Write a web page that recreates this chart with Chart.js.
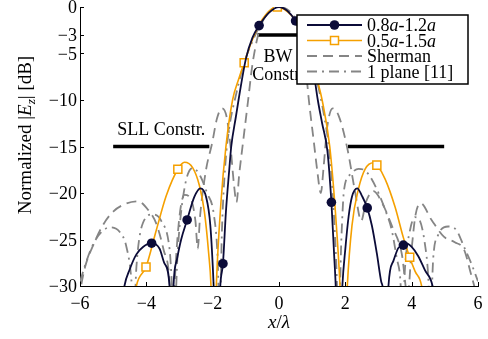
<!DOCTYPE html>
<html>
<head>
<meta charset="utf-8">
<script src="https://cdn.jsdelivr.net/npm/chart.js@4.4.1/dist/chart.umd.min.js"></script>
<style>
html,body{margin:0;padding:0;background:#fff;}
canvas{display:block;}
</style>
</head>
<body>
<canvas id="c" width="488" height="339"></canvas>
<script>
// ---- data (x/λ, normalized dB) ----
const xTicks = [-6, -4, -2, 0, 2, 4, 6];
const yTicks = [0, -3, -5, -10, -15, -20, -25, -30];

const navyPts = [[-4.8,-34],[-4.66,-30],[-4.5,-28.2],[-4.3,-26.6],[-4.1,-25.8],[-3.84,-25.4],[-3.6,-26],[-3.45,-27.6],[-3.3,-30],[-3.24,-40],[-3.18,-30],[-3.08,-27.2],[-2.95,-25],[-2.77,-22.9],[-2.55,-20.4],[-2.37,-19.5],[-2.2,-20.4],[-2.07,-23.5],[-1.97,-30],[-1.87,-40],[-1.77,-30],[-1.69,-27.6],[-1.6,-22],[-1.5,-17.5],[-1.44,-15],[-1.3,-11.8],[-1.22,-10],[-1.0,-5.6],[-0.8,-3.3],[-0.6,-2.0],[-0.3,-0.6],[0,0],[0.25,-0.4],[0.5,-1.5],[0.8,-3.6],[1.0,-6],[1.17,-10],[1.3,-12.5],[1.46,-15.5],[1.58,-21],[1.66,-26.5],[1.71,-30],[1.8,-40],[1.91,-30],[2.0,-26],[2.1,-22.5],[2.2,-20.4],[2.36,-19.5],[2.5,-20.3],[2.66,-21.6],[2.8,-23.5],[2.95,-26.5],[3.08,-29.5],[3.15,-31],[3.22,-40],[3.3,-30],[3.45,-27.3],[3.6,-25.9],[3.75,-25.6],[3.82,-25.4],[4.0,-25.8],[4.2,-26.8],[4.4,-28.3],[4.63,-30],[4.75,-33]];
const navyMarkX = [-3.84, -2.77, -1.69, -0.6, 0.5, 1.58, 2.66, 3.75];

const orangePts = [[-4.42,-33],[-4.3,-30],[-4.01,-27.96],[-3.7,-24],[-3.4,-20.3],[-3.05,-17.45],[-2.85,-16.7],[-2.6,-17.3],[-2.4,-19.2],[-2.25,-22],[-2.12,-26.5],[-2.05,-30],[-1.97,-40],[-1.89,-30],[-1.75,-21],[-1.6,-15],[-1.4,-10],[-1.22,-7.8],[-1.05,-6],[-0.8,-3.5],[-0.5,-1.3],[-0.05,0],[0.4,-1.0],[0.7,-2.6],[0.95,-5],[1.15,-7.8],[1.3,-10],[1.53,-15],[1.7,-22],[1.84,-30],[1.95,-40],[2.06,-30],[2.2,-23.5],[2.4,-19.5],[2.6,-17.4],[2.85,-16.75],[2.95,-17.0],[3.2,-18.5],[3.5,-21.5],[3.75,-24.8],[3.94,-26.9],[4.1,-28.4],[4.3,-30],[4.4,-33]];
const orangeMarkX = [-4.01, -3.05, -1.05, -0.05, 0.95, 2.95, 3.94];

const shermanPts = [[-6.05,-31.5],[-5.85,-28],[-5.6,-25.6],[-5.3,-23.4],[-5.0,-22.0],[-4.65,-21.2],[-4.25,-20.9],[-3.95,-21.8],[-3.7,-23.3],[-3.48,-26.1],[-3.3,-29.5],[-3.22,-36],[-3.12,-28],[-3.0,-22.5],[-2.85,-20.2],[-2.68,-20.5],[-2.52,-23],[-2.45,-26],[-2.38,-22.5],[-2.2,-17.5],[-2.02,-14.7],[-1.87,-12],[-1.72,-10.9],[-1.58,-11.8],[-1.47,-14.7],[-1.36,-19],[-1.28,-21],[-1.2,-18],[-1.1,-15],[-0.93,-10],[-0.81,-6.4],[-0.65,-3.3],[-0.5,-1.6],[-0.3,-0.5],[0,0],[0.3,-0.5],[0.5,-1.6],[0.65,-3.3],[0.8,-6.4],[0.9,-10],[1.05,-14.5],[1.15,-17.5],[1.26,-20],[1.35,-17],[1.45,-13],[1.62,-10.9],[1.8,-11.7],[2.06,-15.2],[2.3,-20],[2.48,-23],[2.62,-21],[2.85,-19.8],[3.1,-21],[3.4,-23.5],[3.7,-26.5],[3.88,-31],[4.0,-26],[4.12,-22.3],[4.27,-21.1],[4.6,-22.9],[4.97,-24.7],[5.3,-25.3],[5.58,-26.1],[5.78,-28.6],[6.0,-31.5]];

const planePts = [[-6.0,-29.5],[-5.7,-26.3],[-5.45,-24.6],[-5.1,-23.7],[-4.8,-24.2],[-4.6,-25.8],[-4.45,-29.4],[-4.38,-34],[-4.3,-28],[-4.1,-23.2],[-3.8,-22.3],[-3.55,-23],[-3.3,-26],[-3.15,-33],[-3.05,-26],[-2.85,-19.5],[-2.6,-17.3],[-2.37,-18.2],[-2.17,-20],[-1.97,-22.2],[-1.85,-27],[-1.79,-34],[-1.72,-24],[-1.62,-17],[-1.5,-13],[-1.3,-9.5],[-1.05,-6],[-0.8,-3.7],[-0.5,-1.5],[-0.2,-0.2],[0,0],[0.3,-0.4],[0.6,-1.9],[0.9,-4.6],[1.15,-8],[1.35,-11.5],[1.5,-15],[1.62,-20],[1.72,-27],[1.8,-34],[1.88,-25],[1.96,-19.7],[2.15,-18],[2.4,-17.4],[2.6,-17.6],[2.76,-18.3],[3.0,-20],[3.2,-21.8],[3.4,-24],[3.55,-27],[3.66,-29.4],[3.72,-34],[3.8,-28],[3.95,-24],[4.1,-22.6],[4.25,-23],[4.4,-25.5],[4.5,-29],[4.56,-34],[4.65,-27],[4.8,-24.5],[5.1,-23.6],[5.35,-24],[5.58,-25.8],[5.8,-27.6],[6.0,-29.5]];

const sllLeftX = [-5, -2.1];
const sllRightX = [2.08, 4.98];
const sllLevel = -15;
const bwX = [-0.65, 0.65];
const bwLevel = -3;

// ---- styles ----
const NAVY = '#0b0b38';
const ORANGE = '#f5a000';
const GRAY = '#858585';
const FONT = '"Liberation Serif", "Times New Roman", serif';

const toXY = pts => pts.map(p => ({x: p[0], y: p[1]}));
const hasX = (arr, v) => arr.some(a => Math.abs(a - v) < 1e-9);

function drawRich(ctx, segs, x, y, size, align) {
  let w = 0;
  const fonts = segs.map(s => {
    const sz = s.sub ? size * 0.7 : size;
    const f = (s.italic ? 'italic ' : '') + sz + 'px ' + FONT;
    ctx.font = f;
    const m = ctx.measureText(s.t).width;
    w += m;
    return {f, m};
  });
  let cx = align === 'center' ? x - w / 2 : (align === 'right' ? x - w : x);
  ctx.textAlign = 'left';
  ctx.textBaseline = 'alphabetic';
  segs.forEach((s, i) => {
    ctx.font = fonts[i].f;
    ctx.fillText(s.t, cx, y + (s.sub ? size * 0.22 : 0));
    cx += fonts[i].m;
  });
}

const decor = {
  id: 'decor',
  afterDatasetsDraw(chart) {
    const ctx = chart.ctx;
    const xs = chart.scales.x, ys = chart.scales.y;
    const area = chart.chartArea;
    ctx.save();
    ctx.fillStyle = '#000';
    ctx.strokeStyle = '#000';
    ctx.lineWidth = 1;
    // inward tick marks
    ctx.beginPath();
    xs.ticks.forEach(t => {
      const px = Math.round(xs.getPixelForValue(t.value)) + 0.5;
      ctx.moveTo(px, area.bottom); ctx.lineTo(px, area.bottom - 4);
    });
    ys.ticks.forEach(t => {
      const py = Math.round(ys.getPixelForValue(t.value)) + 0.5;
      ctx.moveTo(area.left, py); ctx.lineTo(area.left + 4, py);
    });
    ctx.stroke();
    // tick labels
    const fmt = v => (v < 0 ? '\u2212' + Math.abs(v) : String(v));
    ctx.font = '18px ' + FONT;
    ctx.textAlign = 'center';
    ctx.textBaseline = 'alphabetic';
    xs.ticks.forEach(t => {
      ctx.fillText(fmt(t.value), xs.getPixelForValue(t.value), area.bottom + 23);
    });
    ctx.textAlign = 'right';
    ys.ticks.forEach(t => {
      ctx.fillText(fmt(t.value), area.left - 3, ys.getPixelForValue(t.value) + 6);
    });
    // axis titles
    drawRich(ctx, [{t:'x', italic:true}, {t:'/'}, {t:'\u03bb', italic:true}], (area.left + area.right) / 2, 328, 19, 'center');
    ctx.save();
    ctx.translate(31, 135);
    ctx.rotate(-Math.PI / 2);
    drawRich(ctx, [{t:'Normalized |'}, {t:'E', italic:true}, {t:'z', italic:true, sub:true}, {t:'| [dB]'}], 0, 0, 19, 'center');
    ctx.restore();
    // annotations
    ctx.font = '18px ' + FONT;
    ctx.textAlign = 'center';
    ctx.textBaseline = 'alphabetic';
    ctx.fillText('SLL Constr.', xs.getPixelForValue((sllLeftX[0] + sllLeftX[1]) / 2), ys.getPixelForValue(sllLevel) - 12);
    const bwc = xs.getPixelForValue((bwX[0] + bwX[1]) / 2) - 1;
    ctx.fillText('BW', bwc, ys.getPixelForValue(bwLevel) + 27);
    ctx.fillText('Constr.', bwc, ys.getPixelForValue(bwLevel) + 45);
    // legend
    const L = 297, T = 15, R = 468, B = 84;
    ctx.fillStyle = '#fff';
    ctx.fillRect(L, T, R - L, B - T);
    ctx.lineWidth = 1.5;
    ctx.strokeStyle = '#000';
    ctx.strokeRect(L, T, R - L, B - T);
    const rows = [25, 40.5, 56, 71.5];
    const lx0 = 307, lx1 = 362, mx = 334.5, tx = 367;
    const items = [
      {color: NAVY, dash: [], w: 2, marker: 'circle', text: [{t:'0.8'}, {t:'a', italic:true}, {t:'-1.2'}, {t:'a', italic:true}]},
      {color: ORANGE, dash: [], w: 1.6, marker: 'rect', text: [{t:'0.5'}, {t:'a', italic:true}, {t:'-1.5'}, {t:'a', italic:true}]},
      {color: GRAY, dash: [10, 6], w: 1.8, text: [{t:'Sherman'}]},
      {color: GRAY, dash: [10, 5, 2, 5], w: 1.8, text: [{t:'1 plane [11]'}]}
    ];
    items.forEach((it, i) => {
      const y = rows[i];
      ctx.strokeStyle = it.color;
      ctx.lineWidth = it.w;
      ctx.setLineDash(it.dash);
      ctx.beginPath(); ctx.moveTo(lx0, y); ctx.lineTo(lx1, y); ctx.stroke();
      ctx.setLineDash([]);
      if (it.marker === 'circle') {
        ctx.fillStyle = it.color;
        ctx.beginPath(); ctx.arc(mx, y, 4.8, 0, Math.PI * 2); ctx.fill();
      } else if (it.marker === 'rect') {
        ctx.fillStyle = '#fff';
        ctx.fillRect(mx - 4, y - 4, 8, 8);
        ctx.lineWidth = 1.5;
        ctx.strokeRect(mx - 4, y - 4, 8, 8);
      }
      ctx.fillStyle = '#000';
      drawRich(ctx, it.text, tx, y + 6, 18, 'left');
    });
    ctx.restore();
  }
};

const common = {pointRadius: 0, fill: false, clip: 0, cubicInterpolationMode: 'monotone'};

new Chart(document.getElementById('c'), {
  type: 'line',
  data: {
    datasets: [
      Object.assign({}, common, {
        label: '0.8a-1.2a', data: toXY(navyPts), borderColor: NAVY, borderWidth: 1.8,
        pointRadius: c => hasX(navyMarkX, navyPts[c.dataIndex][0]) ? 4.8 : 0,
        pointStyle: 'circle', pointBackgroundColor: NAVY, pointBorderColor: NAVY, pointBorderWidth: 0
      }),
      Object.assign({}, common, {
        label: '0.5a-1.5a', data: toXY(orangePts), borderColor: ORANGE, borderWidth: 1.6,
        pointRadius: c => hasX(orangeMarkX, orangePts[c.dataIndex][0]) ? 5.7 : 0,
        pointStyle: 'rect', pointBackgroundColor: '#fff', pointBorderColor: ORANGE, pointBorderWidth: 1.5
      }),
      Object.assign({}, common, {
        label: 'Sherman', data: toXY(shermanPts), borderColor: GRAY, borderWidth: 1.8, borderDash: [10, 6]
      }),
      Object.assign({}, common, {
        label: '1 plane [11]', data: toXY(planePts), borderColor: GRAY, borderWidth: 1.8, borderDash: [10, 5, 2, 5]
      }),
      Object.assign({}, common, {
        label: 'sllL', data: sllLeftX.map(x => ({x, y: sllLevel})), borderColor: '#000', borderWidth: 3.5, cubicInterpolationMode: 'default', tension: 0
      }),
      Object.assign({}, common, {
        label: 'sllR', data: sllRightX.map(x => ({x, y: sllLevel})), borderColor: '#000', borderWidth: 3.5, cubicInterpolationMode: 'default', tension: 0
      }),
      Object.assign({}, common, {
        label: 'bw', data: bwX.map(x => ({x, y: bwLevel})), borderColor: '#000', borderWidth: 3.5, cubicInterpolationMode: 'default', tension: 0
      })
    ]
  },
  options: {
    responsive: false,
    animation: false,
    events: [],
    layout: {padding: {left: 0, top: 7, right: 10, bottom: 0}},
    plugins: {legend: {display: false}, tooltip: {enabled: false}},
    scales: {
      x: {
        type: 'linear', min: -6, max: 6,
        afterBuildTicks: s => { s.ticks = xTicks.map(v => ({value: v})); },
        afterFit: s => { s.height = 53; },
        ticks: {display: false},
        grid: {display: false},
        border: {display: true, color: '#000', width: 1}
      },
      y: {
        type: 'linear', min: -30, max: 0,
        afterBuildTicks: s => { s.ticks = yTicks.map(v => ({value: v})); },
        afterFit: s => { s.width = 80; },
        ticks: {display: false},
        grid: {display: false},
        border: {display: true, color: '#000', width: 1}
      }
    }
  },
  plugins: [decor]
});
</script>
</body>
</html>
